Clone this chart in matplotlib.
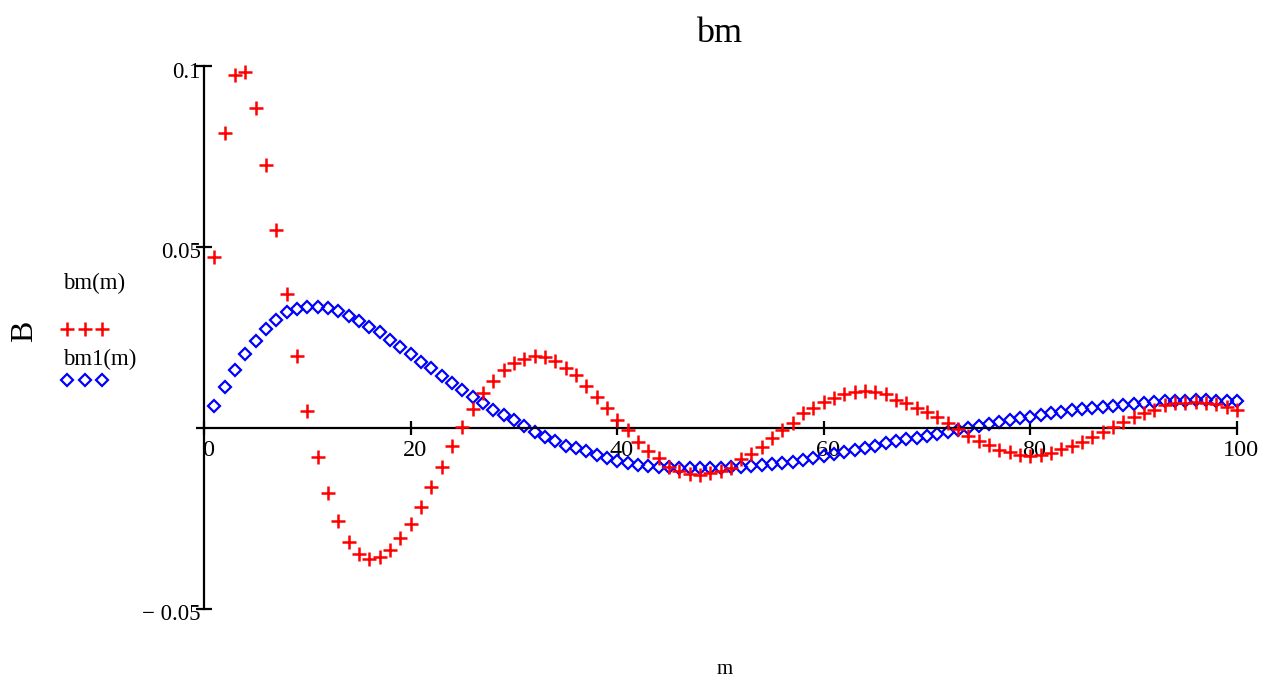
import matplotlib
matplotlib.use("Agg")
import matplotlib.pyplot as plt
import matplotlib.transforms as mtransforms
from matplotlib.lines import Line2D
import numpy as np

# ---- data ----
m_values = list(range(1, 101))

bm = [0.0472, 0.0814, 0.0975, 0.0981, 0.0883, 0.0724, 0.0546, 0.0368, 0.0197, 0.0046,
      -0.0082, -0.0181, -0.0258, -0.0316, -0.0350, -0.0362, -0.0357, -0.0339, -0.0304, -0.0267,
      -0.0219, -0.0165, -0.0110, -0.0052, 0.0002, 0.0050, 0.0094, 0.0128, 0.0158, 0.0179,
      0.0190, 0.0197, 0.0195, 0.0183, 0.0165, 0.0144, 0.0114, 0.0084, 0.0055, 0.0021,
      -0.0008, -0.0041, -0.0064, -0.0085, -0.0110, -0.0119, -0.0128, -0.0130, -0.0127, -0.0119,
      -0.0112, -0.0087, -0.0074, -0.0055, -0.0030, -0.0007, 0.0013, 0.0039, 0.0055, 0.0071,
      0.0082, 0.0093, 0.0099, 0.0102, 0.0097, 0.0092, 0.0076, 0.0067, 0.0053, 0.0044,
      0.0030, 0.0012, -0.0004, -0.0024, -0.0037, -0.0048, -0.0062, -0.0067, -0.0076, -0.0079,
      -0.0076, -0.0070, -0.0060, -0.0051, -0.0040, -0.0027, -0.0012, 0.0002, 0.0016, 0.0028,
      0.0039, 0.0048, 0.0062, 0.0067, 0.0069, 0.0071, 0.0067, 0.0065, 0.0058, 0.0047]

bm1 = [0.0059, 0.0111, 0.0159, 0.0203, 0.0240, 0.0272, 0.0298, 0.0318, 0.0328, 0.0334,
       0.0334, 0.0330, 0.0321, 0.0309, 0.0295, 0.0279, 0.0263, 0.0242, 0.0223, 0.0202,
       0.0182, 0.0163, 0.0143, 0.0122, 0.0104, 0.0085, 0.0067, 0.0049, 0.0035, 0.0020,
       0.0004, -0.0013, -0.0026, -0.0038, -0.0050, -0.0058, -0.0066, -0.0075, -0.0084, -0.0092,
       -0.0098, -0.0103, -0.0106, -0.0108, -0.0110, -0.0111, -0.0112, -0.0112, -0.0112, -0.0111,
       -0.0110, -0.0108, -0.0106, -0.0104, -0.0101, -0.0098, -0.0094, -0.0089, -0.0085, -0.0079,
       -0.0074, -0.0068, -0.0062, -0.0056, -0.0050, -0.0044, -0.0038, -0.0033, -0.0028, -0.0023,
       -0.0018, -0.0012, -0.0006, -0.0001, 0.0004, 0.0010, 0.0016, 0.0021, 0.0026, 0.0030,
       0.0035, 0.0040, 0.0044, 0.0047, 0.0050, 0.0054, 0.0056, 0.0059, 0.0062, 0.0064,
       0.0067, 0.0070, 0.0072, 0.0073, 0.0074, 0.0075, 0.0075, 0.0074, 0.0073, 0.0073]

x_ticks = [0, 20, 40, 60, 80, 100]
x_tick_labels = ["0", "20", "40", "60", "80", "100"]
y_ticks = [-0.05, 0.05, 0.1]
y_tick_labels = ["\u2212 0.05", "0.05", "0.1"]

series_labels = ["bm(m)", "bm1(m)"]
title_text = "bm"
x_label = "m"
y_label = "B"

# ---- figure ----
plt.rcParams['font.family'] = ['Liberation Serif', 'DejaVu Serif']
W, H = 1268, 683
fig = plt.figure(figsize=(W / 100, H / 100), dpi=100)

left_px, right_px = 204, 1237
top_px, bot_px = 65.5, 608.5
ax = fig.add_axes([left_px / W, 1 - bot_px / H, (right_px - left_px) / W, (bot_px - top_px) / H])

red = "#ff0000"
blue = "#0000ff"
plus_style = dict(marker="+", markersize=10, markeredgewidth=1.8, color=red)
dia_style = dict(marker="D", markersize=6.6, markeredgewidth=1.6,
                 markerfacecolor="none", markeredgecolor=blue)

ax.plot(m_values, bm, linestyle="none", clip_on=False, zorder=3, **plus_style)
ax.plot(m_values, bm1, linestyle="none", clip_on=False, zorder=2, **dia_style)

ax.set_xlim(0, 100)
ax.set_ylim(-0.05, 0.1)

for s in ["top", "right"]:
    ax.spines[s].set_visible(False)
ax.spines["bottom"].set_position(("data", 0))
ax.spines["left"].set_linewidth(1.6)
ax.spines["bottom"].set_linewidth(1.6)
# extend horizontal axis line a bit to the left like the reference
ax.plot([-0.8, 0], [0, 0], color="black", linewidth=1.6, clip_on=False, solid_capstyle="butt")

ax.set_xticks(x_ticks)
ax.set_xticklabels(x_tick_labels)
ax.set_yticks(y_ticks)
ax.set_yticklabels(y_tick_labels)

ax.tick_params(axis="x", direction="inout", length=10, width=1.6, pad=4, labelsize=17.5)
ax.tick_params(axis="y", direction="inout", length=11, width=1.6, pad=-3, labelsize=16.5)

# small offsets mimicking Mathcad tick label placement
off_x = mtransforms.ScaledTranslation(4 / 100, 0, fig.dpi_scale_trans)
for lab in ax.get_xticklabels():
    lab.set_transform(lab.get_transform() + off_x)
off_y = mtransforms.ScaledTranslation(0, -4 / 100, fig.dpi_scale_trans)
for lab in ax.get_yticklabels():
    lab.set_transform(lab.get_transform() + off_y)

# title and axis labels
fig.text(719 / W, 1 - 42 / H, title_text, ha="center", va="baseline", fontsize=26)
fig.text(725 / W, 1 - 670 / H, x_label, ha="center", va="center", fontsize=15)
fig.text(25 / W, 1 - 331 / H, y_label, ha="center", va="center", rotation=90, fontsize=23)

# legend (Mathcad style: label above sample markers)
fig.text(63 / W, 1 - 283 / H, series_labels[0], ha="left", va="center", fontsize=16.5)
fig.text(63 / W, 1 - 359 / H, series_labels[1], ha="left", va="center", fontsize=16.5)
fig.add_artist(Line2D([67 / W, 84.5 / W, 102 / W], [1 - 329 / H] * 3, transform=fig.transFigure,
                      linestyle="none", **plus_style))
fig.add_artist(Line2D([67 / W, 84.5 / W, 102 / W], [1 - 380 / H] * 3, transform=fig.transFigure,
                      linestyle="none", **dia_style))

fig.savefig("out.png", dpi=100)
